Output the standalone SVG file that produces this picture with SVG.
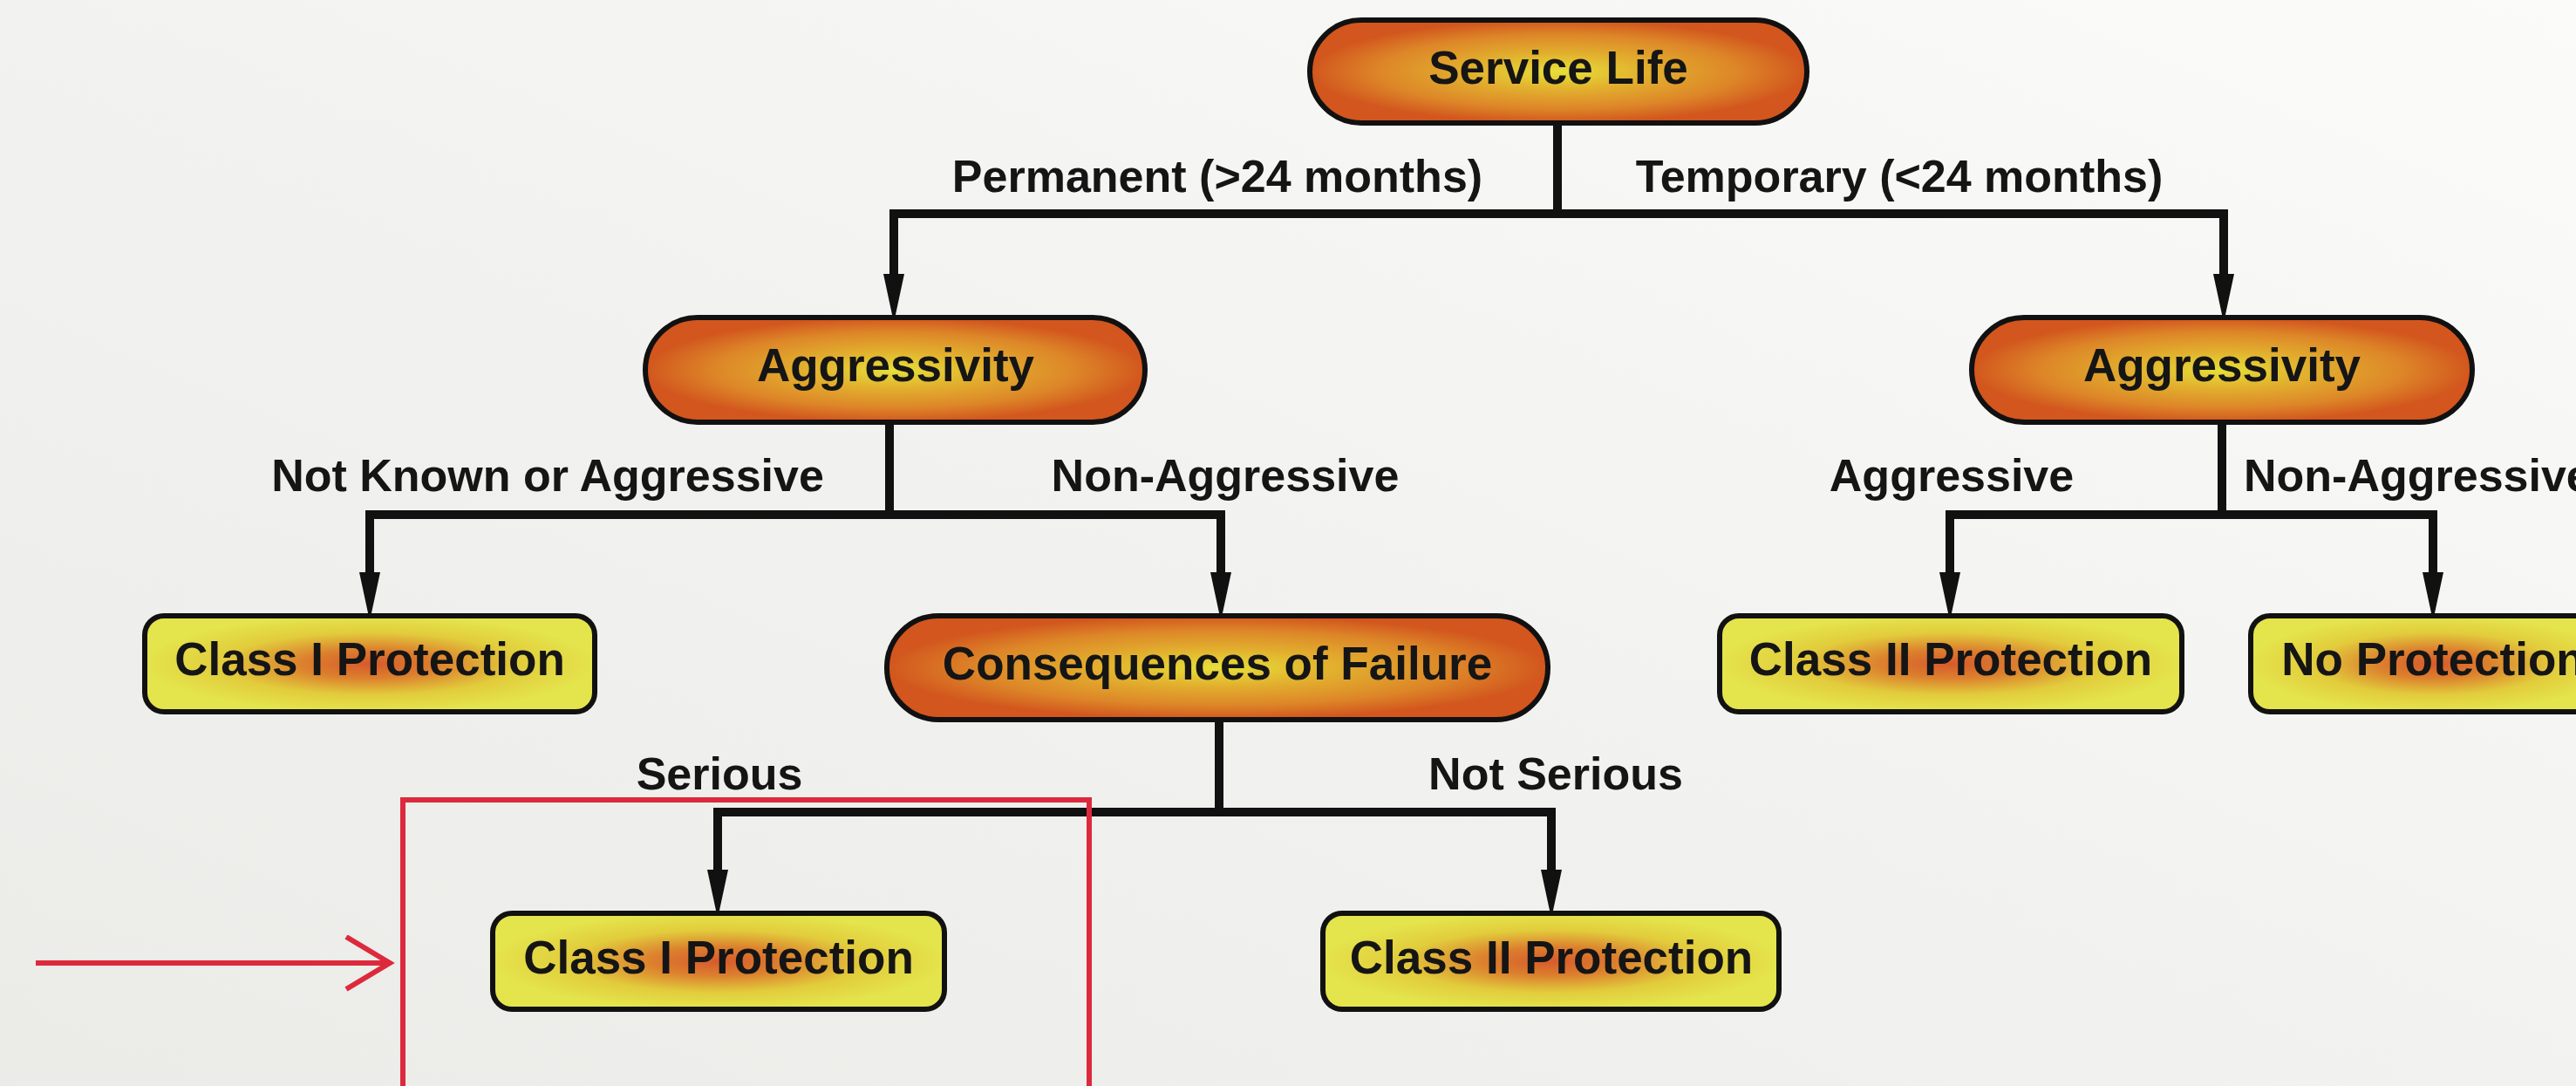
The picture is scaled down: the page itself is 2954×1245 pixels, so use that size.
<svg xmlns="http://www.w3.org/2000/svg" width="2954" height="1245" viewBox="0 0 2954 1245">
<defs>
<linearGradient id="bg" x1="0" y1="1" x2="1" y2="0">
<stop offset="0" stop-color="#ebebe8"/>
<stop offset="0.5" stop-color="#f2f2f0"/>
<stop offset="1" stop-color="#fbfbfa"/>
</linearGradient>
<radialGradient id="pill" cx="0.5" cy="0.5" r="0.5">
<stop offset="0" stop-color="#e6e03a"/>
<stop offset="0.35" stop-color="#e2b02e"/>
<stop offset="0.72" stop-color="#dd8628"/>
<stop offset="1" stop-color="#d2561e"/>
</radialGradient>
<radialGradient id="rect" cx="0.5" cy="0.5" r="0.5">
<stop offset="0" stop-color="#d75a2c"/>
<stop offset="0.3" stop-color="#dc802e"/>
<stop offset="0.65" stop-color="#e2cc3c"/>
<stop offset="1" stop-color="#e4e44c"/>
</radialGradient>
<marker id="arr" markerUnits="userSpaceOnUse" markerWidth="60" markerHeight="30" refX="10" refY="12" orient="auto">
<path d="M0,0 L56,12 L0,24 z" fill="#111"/>
</marker>
<marker id="redarr" markerUnits="userSpaceOnUse" markerWidth="60" markerHeight="70" refX="52" refY="32" orient="auto">
<path d="M2,2 L52,32 L2,62" fill="none" stroke="#dc2a3c" stroke-width="6"/>
</marker>
</defs>
<style>
.pill{fill:url(#pill);stroke:#111;stroke-width:6}
.box{fill:url(#rect);stroke:#111;stroke-width:6}
.t{font-family:"Liberation Sans",Arial,sans-serif;font-weight:bold;font-size:53px;fill:#151515;text-anchor:middle}
.lbl{font-family:"Liberation Sans",Arial,sans-serif;font-weight:bold;font-size:52px;fill:#151515;text-anchor:middle}
.c{fill:none;stroke:#111;stroke-width:10;stroke-linejoin:miter;stroke-linecap:butt}
.a{fill:none;stroke:#111;stroke-width:10;marker-end:url(#arr)}
</style>
<rect x="0" y="0" width="2954" height="1245" fill="url(#bg)"/>

<g id="connectors">
<path class="c" d="M1786,141 V245 M1020,245 H2555"/>
<path class="a" d="M1025,245 V324"/>
<path class="a" d="M2550,245 V324"/>
<path class="c" d="M1020,484 V590 M419,590 H1405"/>
<path class="a" d="M424,590 V666"/>
<path class="a" d="M1400,590 V666"/>
<path class="c" d="M2548,484 V590 M2231,590 H2795"/>
<path class="a" d="M2236,590 V666"/>
<path class="a" d="M2790,590 V666"/>
<path class="c" d="M1398,825 V931 M818,931 H1784"/>
<path class="a" d="M823,931 V1007"/>
<path class="a" d="M1779,931 V1007"/>
<text class="lbl" x="1396" y="220">Permanent (&gt;24 months)</text>
<text class="lbl" x="2178" y="220">Temporary (&lt;24 months)</text>
<text class="lbl" x="628" y="563">Not Known or Aggressive</text>
<text class="lbl" x="1405" y="563">Non-Aggressive</text>
<text class="lbl" x="2238" y="563">Aggressive</text>
<text class="lbl" x="2573" y="563" style="text-anchor:start">Non-Aggressive</text>
<text class="lbl" x="825" y="905">Serious</text>
<text class="lbl" x="1784" y="905">Not Serious</text>
</g>

<g id="service-life">
<rect class="pill" x="1502" y="23" width="570" height="118" rx="59"/>
<text class="t" x="1787" y="96">Service Life</text>
</g>
<g id="aggressivity-left">
<rect class="pill" x="740" y="364" width="573" height="120" rx="60"/>
<text class="t" x="1027" y="437">Aggressivity</text>
</g>
<g id="aggressivity-right">
<rect class="pill" x="2261" y="364" width="574" height="120" rx="60"/>
<text class="t" x="2548" y="437">Aggressivity</text>
</g>
<g id="class1-left">
<rect class="box" x="166" y="706" width="516" height="110" rx="22"/>
<text class="t" x="424" y="774">Class I Protection</text>
</g>
<g id="consequences">
<rect class="pill" x="1017" y="706" width="758" height="119" rx="59"/>
<text class="t" x="1396" y="779">Consequences of Failure</text>
</g>
<g id="class2-right">
<rect class="box" x="1972" y="706" width="530" height="110" rx="22"/>
<text class="t" x="2237" y="774">Class II Protection</text>
</g>
<g id="no-protection">
<rect class="box" x="2581" y="706" width="420" height="110" rx="22"/>
<text class="t" x="2790" y="774">No Protection</text>
</g>
<g id="class1-bottom">
<rect class="box" x="565" y="1047" width="518" height="110" rx="22"/>
<text class="t" x="824" y="1116">Class I Protection</text>
</g>
<g id="class2-bottom">
<rect class="box" x="1517" y="1047" width="523" height="110" rx="22"/>
<text class="t" x="1779" y="1116">Class II Protection</text>
</g>

<g id="highlight">
<rect x="462" y="917" width="787" height="345" fill="none" stroke="#dc2a3c" stroke-width="6"/>
<path d="M41,1104 H447" fill="none" stroke="#dc2a3c" stroke-width="6" marker-end="url(#redarr)"/>
</g>
</svg>
